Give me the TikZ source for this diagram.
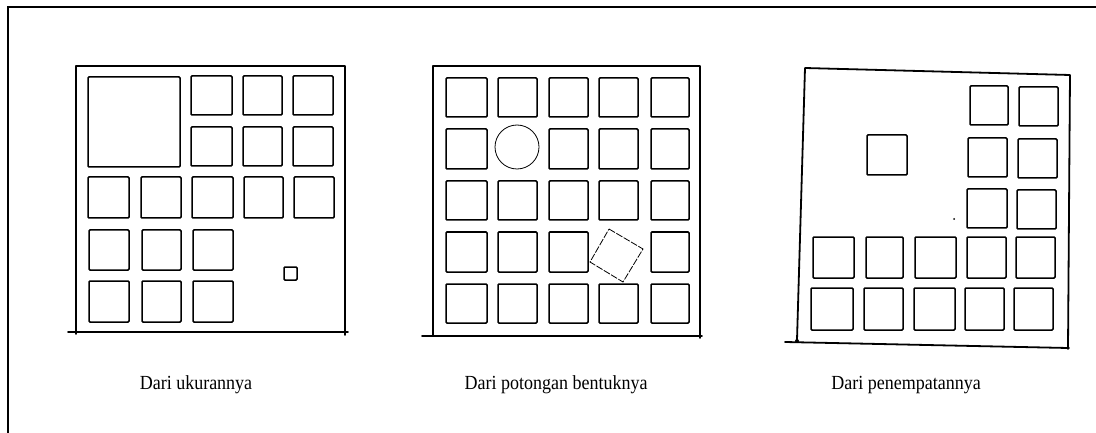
\documentclass[tikz,border=0pt]{standalone}
\usepackage{fontspec}
\setmainfont{Liberation Serif}
\begin{document}
\begin{tikzpicture}[x=1pt,y=-1pt,
  frameline/.style={line width=1.8pt,line cap=round,line join=round},
  tile/.style={line width=1.5pt,rounded corners=1pt},
  thintile/.style={line width=0.8pt},
  outerline/.style={line width=1.4pt},
  caption/.style={font=\fontsize{20}{22}\selectfont,anchor=center,inner sep=0pt,xscale=0.9}]
\useasboundingbox (0,0) rectangle (1096,433);
% outer frame
\draw[outerline] (1096,7) -- (8,7) -- (8,433);

% ---------- Panel 1: Dari ukurannya ----------
\draw[frameline] (76,334) -- (76,66) -- (345,66) -- (345,335);
\draw[frameline] (68,332) -- (348,332);
\draw[tile] (88,77) rectangle (180,167);
\foreach \xa/\xb in {191/232,243/282,293/333}{
  \draw[tile] (\xa,76) rectangle (\xb,115);
  \draw[tile] (\xa,127) rectangle (\xb,166);
}
\foreach \xa/\xb in {88/129,141/181,192/233,244/283,294/334}{
  \draw[tile] (\xa,177) rectangle (\xb,218);
}
\foreach \xa/\xb in {89/129,142/181,193/233}{
  \draw[tile] (\xa,230) rectangle (\xb,270);
  \draw[tile] (\xa,281) rectangle (\xb,322);
}
\draw[tile,rounded corners=1pt] (284,267) rectangle (297,280);

% ---------- Panel 2: Dari potongan bentuknya ----------
\draw[frameline] (433,336) -- (433,66) -- (700,66) -- (700,338);
\draw[frameline] (422,336) -- (702,336);
\foreach [count=\r] \ya/\yb in {78/117,129/169,181/220,232/272,284/323}{
  \foreach [count=\c] \xa/\xb in {446/487,498/537,549/588,599/638,651/689}{
    \pgfmathtruncatemacro{\skip}{(\r==2 && \c==2) || (\r==4 && \c==4) ? 1 : 0}
    \ifnum\skip=0
      \draw[tile] (\xa,\ya) rectangle (\xb,\yb);
    \fi
  }
}
\draw[thintile] (517,147) circle (22);
\draw[thintile,dash pattern=on 7pt off 1.5pt] (609,229) -- (643,249) -- (623,282) -- (590,262) -- cycle;

% ---------- Panel 3: Dari penempatannya ----------
\draw[frameline] (797,340) -- (805,68) -- (1070,75) -- (1068,348);
\draw[frameline] (785,342) -- (1068,348);
\fill (797,341) circle (2);
\fill (1068,348) circle (1.8);
\fill (954,219) circle (1);
\draw[tile] (970,86) rectangle (1008,125);
\draw[tile] (1019,87) rectangle (1058,126);
\draw[tile] (968,138) rectangle (1007,177);
\draw[tile] (1018,139) rectangle (1057,178);
\draw[tile] (967,189) rectangle (1007,228);
\draw[tile] (1017,190) rectangle (1056,229);
\draw[tile] (867,135) rectangle (907,175);
\foreach \xa/\xb in {813/854,866/903,915/956,967/1006,1016/1055}{
  \draw[tile] (\xa,237) rectangle (\xb,278);
}
\foreach \xa/\xb in {811/853,864/903,914/955,965/1004,1014/1053}{
  \draw[tile] (\xa,288) rectangle (\xb,330);
}

% ---------- captions ----------
\node[caption] (capA) at (196,385) {Dari ukurannya};
\node[caption] (capB) at (556,385) {Dari potongan bentuknya};
\node[caption] (capC) at (906,385) {Dari penempatannya};
\end{tikzpicture}
\end{document}
